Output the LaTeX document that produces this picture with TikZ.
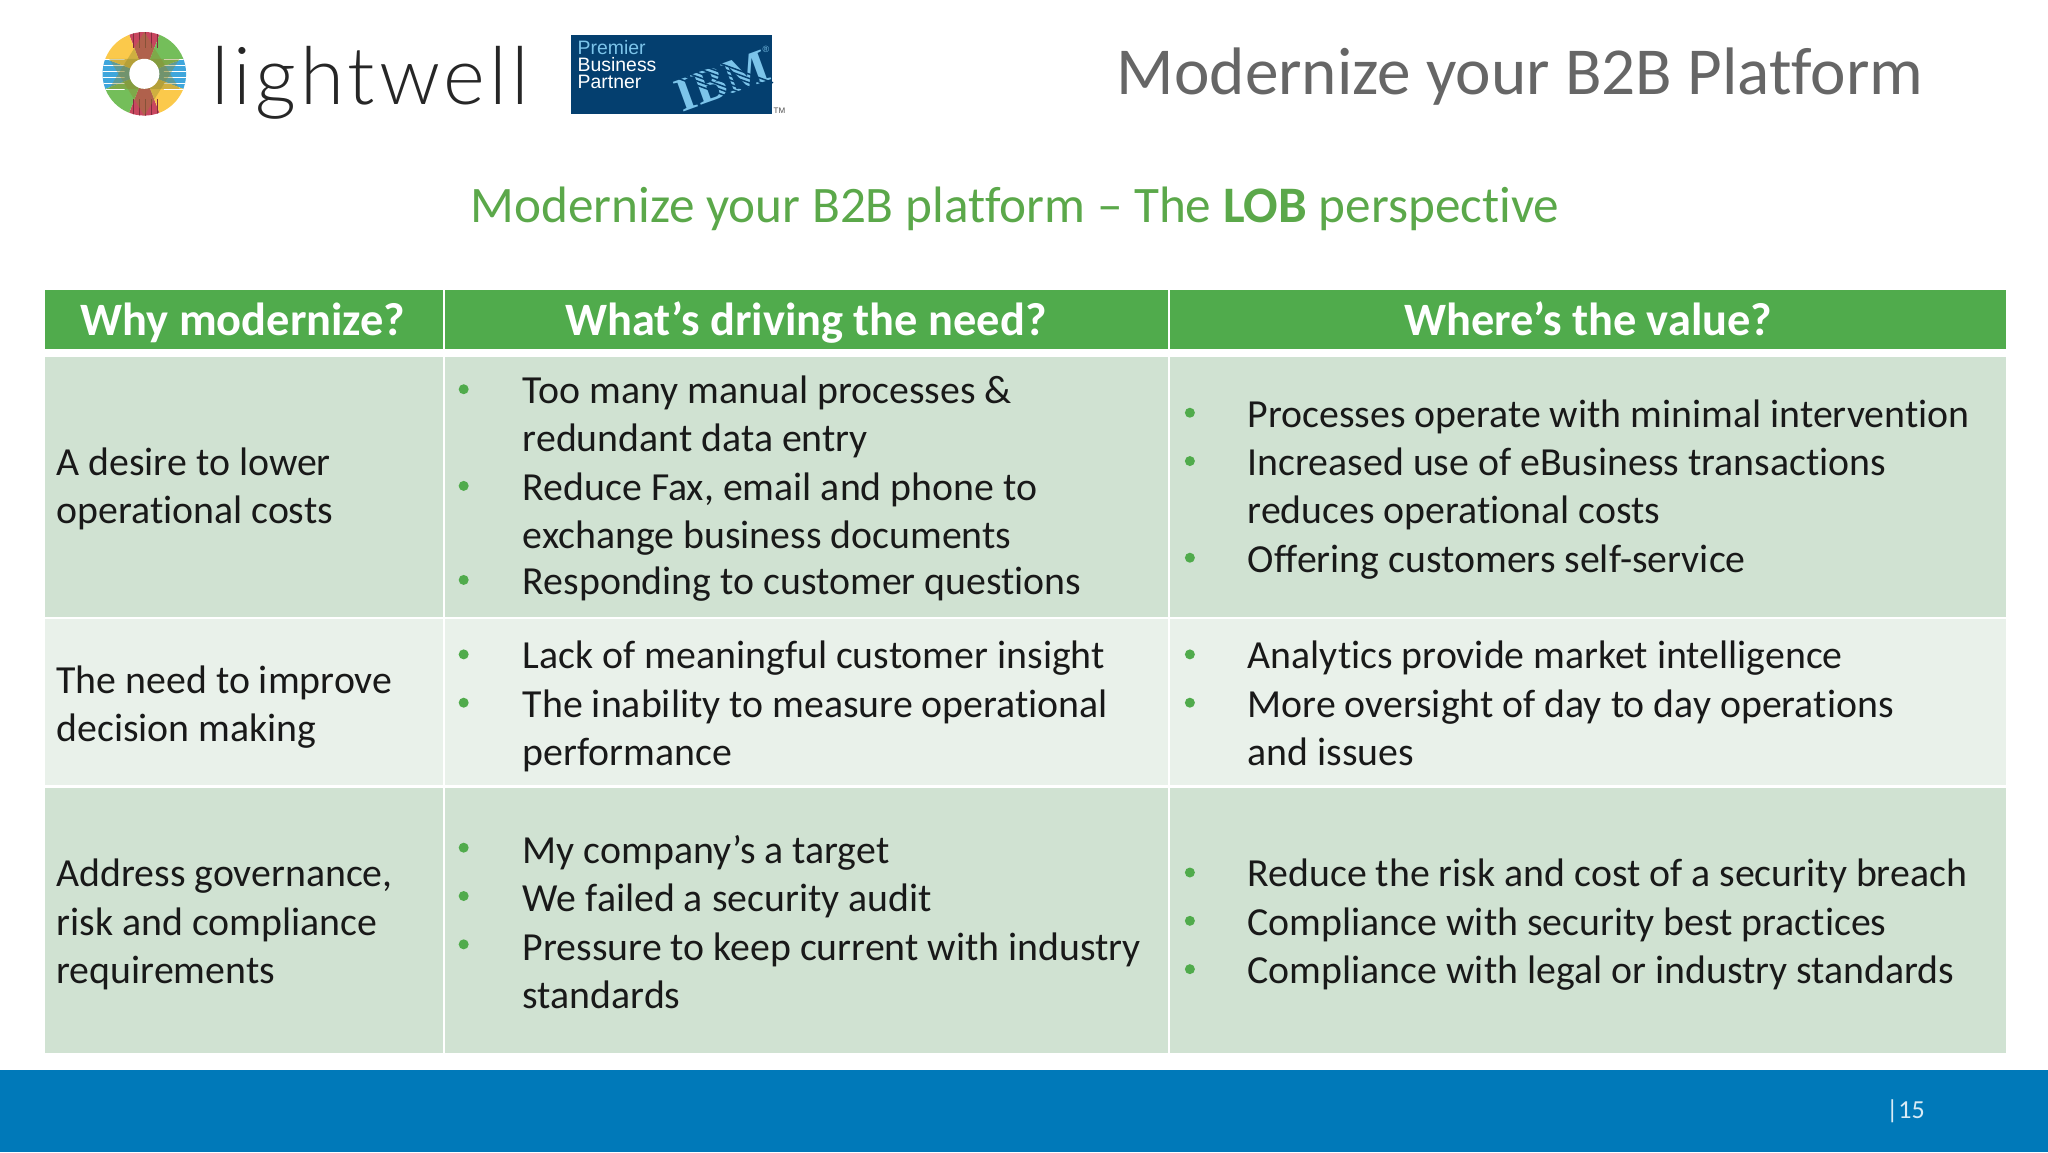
\documentclass[tikz,border=0pt]{standalone}
\usepackage{fontspec}
\usepackage{tikz}
\usetikzlibrary{patterns}
\setmainfont[Ligatures=NoCommon]{Carlito}
\newfontfamily\logofont[LetterSpace=5]{Lato Light}
\newfontfamily\ibmfont{Liberation Sans}
\newfontfamily\ibmslab{Liberation Serif}
\definecolor{headgreen}{HTML}{50AB4C}
\definecolor{rowdark}{HTML}{D0E2D2}
\definecolor{rowlight}{HTML}{E9F1EA}
\definecolor{titlegreen}{HTML}{5BA84A}
\definecolor{titlegray}{HTML}{666666}
\definecolor{barblue}{HTML}{0079B9}
\definecolor{ibmblue}{HTML}{043F6F}
\definecolor{ibmsky}{HTML}{7CC4EA}
\definecolor{logored}{HTML}{C8475F}
\definecolor{logogreen}{HTML}{74BE5A}
\definecolor{logoblue}{HTML}{3FA6DC}
\definecolor{logoyellow}{HTML}{FBC94B}
\definecolor{logoolive}{HTML}{8E8A30}
\tikzset{
  bodytext/.style={anchor=base west,inner sep=0pt,font=\fontsize{19.9}{24}\selectfont,text=black!90},
  headtext/.style={anchor=base,inner sep=0pt,font=\fontsize{23.2}{28}\selectfont\bfseries,text=white},
  badgetext/.style={anchor=base west,inner sep=0pt,font=\ibmfont\fontsize{9.7}{12}\selectfont},
  dot/.style={fill=headgreen,circle,inner sep=0pt,minimum size=5pt}
}
\begin{document}
\begin{tikzpicture}[x=0.653061pt,y=-0.653061pt]
  \useasboundingbox (0,0) rectangle (1568,882);
  % logo ring
  \begin{scope}[shift={(110.5,56.5)}]
    \begin{scope}
      \clip (0,0) circle (32);
      \fill[logored] (0,0) -- (-14,-36) -- (14,-36) -- cycle;
      \fill[logored] (0,0) -- (-14,36) -- (14,36) -- cycle;
      \fill[logoblue] (0,0) -- (-36,-14) -- (-36,14) -- cycle;
      \fill[logoblue] (0,0) -- (36,-14) -- (36,14) -- cycle;
      \fill[logoyellow] (0,0) -- (-14,-36) -- (-36,-36) -- (-36,-14) -- cycle;
      \fill[logoyellow] (0,0) -- (14,36) -- (36,36) -- (36,14) -- cycle;
      \fill[logogreen] (0,0) -- (14,-36) -- (36,-36) -- (36,-14) -- cycle;
      \fill[logogreen] (0,0) -- (-14,36) -- (-36,36) -- (-36,14) -- cycle;
      \fill[pattern=horizontal lines,pattern color=white] (-36,-12) rectangle (-15,12);
      \fill[pattern=horizontal lines,pattern color=white] (15,-12) rectangle (36,12);
      \fill[pattern=vertical lines,pattern color=logored!65!black] (-12,-36) rectangle (12,-20);
      \fill[pattern=vertical lines,pattern color=logored!65!black] (-12,20) rectangle (12,36);
      \fill[logoolive,opacity=0.4] (-27,-11.5) -- (27,-11.5) -- (0,32) -- cycle;
      \fill[logoolive,opacity=0.4] (-27,11.5) -- (27,11.5) -- (0,-32) -- cycle;
    \end{scope}
    \fill[white] (0,0) circle (11.5);
  \end{scope}
  \node[anchor=base west,inner sep=0pt,font=\logofont\fontsize{40}{46}\selectfont,text=black!85] (logotext) at (162,80) {lightwell};
  % IBM badge
  \fill[ibmblue] (437,27) rectangle (591,87);
  \node[badgetext,text=ibmsky] (badge1) at (442,42) {Premier};
  \node[badgetext,text=white] (badge2) at (442,55) {Business};
  \node[badgetext,text=white] (badge3) at (442,68) {Partner};
  \begin{scope}[shift={(553,62)},rotate=-20]
    \node[inner sep=0pt,rotate=20,font=\ibmslab\bfseries\fontsize{24}{24}\selectfont,text=ibmsky] (ibmword) at (0,0) {IBM};
    \foreach \y in {-12,-8.9,...,12.5}
      \draw[ibmblue,line width=0.75pt] (-37,\y) -- (37,\y);
  \end{scope}
  \node[inner sep=0pt,font=\ibmfont\fontsize{4.5}{5}\selectfont,text=ibmsky] (ibmreg) at (586.5,37.5) {®};
  \node[anchor=base west,inner sep=0pt,font=\ibmfont\fontsize{4}{5}\selectfont,text=black!70] (ibmtm) at (592,87) {TM};
  % titles
  \node[anchor=base east,inner sep=0pt,font=\fontsize{33.6}{40}\selectfont,text=titlegray] (maintitle) at (1473,72) {Modernize your B2B Platform};
  \node[anchor=base,inner sep=0pt,font=\fontsize{25.6}{32}\selectfont,text=titlegreen] (subtitle) at (777,170) {Modernize your B2B platform -- The \textbf{LOB} perspective};
  % table
  \foreach \a/\b in {34.5/339,340.5/894,896/1536} {
    \fill[headgreen] (\a,222) rectangle (\b,267);
    \fill[rowdark] (\a,273) rectangle (\b,472);
    \fill[rowlight] (\a,474) rectangle (\b,601);
    \fill[rowdark] (\a,603) rectangle (\b,806);
  }
  \node[headtext] (headwhy) at (186,257) {Why modernize?};
  \node[headtext] (headdrive) at (617,257) {What’s driving the need?};
  \node[headtext] (headvalue) at (1216,257) {Where’s the value?};
  % first column
  \foreach \y/\t in {364/A desire to lower,401/operational costs,531/The need to improve,568/decision making,679/{Address governance,},716/risk and compliance,753/requirements}
    \node[bodytext] (why\y) at (43,\y) {\t};
  % second column
  \foreach \y/\t in {309/Too many manual processes \&,346/redundant data entry,383/{Reduce Fax, email and phone to},420/exchange business documents,455/Responding to customer questions,512/Lack of meaningful customer insight,549/The inability to measure operational,586/performance,661/My company’s a target,698/We failed a security audit,735/Pressure to keep current with industry,772/standards}
    \node[bodytext] (drive\y) at (400,\y) {\t};
  \foreach \y in {298,372,444,501,538,649,686,723}
    \node[dot] (drivedot\y) at (355,\y) {};
  % third column
  \foreach \y/\t in {327/Processes operate with minimal intervention,364/Increased use of eBusiness transactions,401/reduces operational costs,438/Offering customers self-service,512/Analytics provide market intelligence,549/More oversight of day to day operations,586/and issues,679/Reduce the risk and cost of a security breach,716/Compliance with security best practices,753/Compliance with legal or industry standards}
    \node[bodytext] (value\y) at (955,\y) {\t};
  \foreach \y in {316,353,427,501,538,668,705,742}
    \node[dot] (valuedot\y) at (911,\y) {};
  % footer
  \fill[barblue] (0,819) rectangle (1568,882);
  \node[anchor=base west,inner sep=0pt,font=\fontsize{13}{16}\selectfont,text=white!85!barblue] (pagenum) at (1444,856) {|15};
\end{tikzpicture}
\end{document}
